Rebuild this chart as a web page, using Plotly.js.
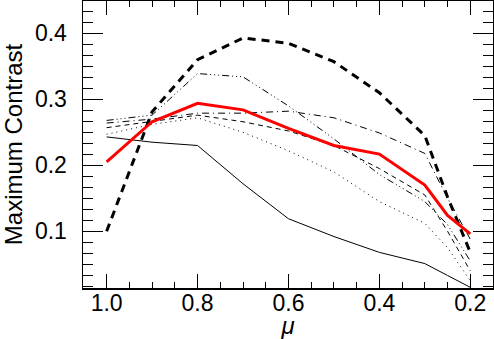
<!DOCTYPE html>
<html>
<head>
<meta charset="utf-8">
<script src="https://cdn.plot.ly/plotly-3.0.1.min.js"></script>
<style>
  body { margin: 0; background: #fff; }
  #chart { width: 494px; height: 339px; }
</style>
</head>
<body>
<div id="chart"></div>
<script>
// mu grid (shared by all curves)
var mu = [1.0, 0.9, 0.8, 0.7, 0.6, 0.5, 0.4, 0.3, 0.25, 0.2];

// values
var solidThin   = [0.243, 0.235, 0.230, 0.172, 0.119, 0.092, 0.068, 0.051, 0.033, 0.015];
var thickDash   = [0.100, 0.281, 0.360, 0.393, 0.385, 0.357, 0.310, 0.245, 0.152, 0.068];
var dashDotDot  = [0.268, 0.276, 0.339, 0.334, 0.290, 0.240, 0.186, 0.145, 0.110, 0.055];
var dashDot     = [0.264, 0.270, 0.279, 0.279, 0.282, 0.272, 0.249, 0.218, 0.150, 0.088];
var thinDash    = [0.257, 0.266, 0.276, 0.266, 0.252, 0.230, 0.195, 0.155, 0.100, 0.040];
var dotted      = [0.247, 0.262, 0.272, 0.250, 0.222, 0.190, 0.145, 0.112, 0.075, 0.025];
var redLine     = [0.205, 0.266, 0.294, 0.284, 0.256, 0.230, 0.217, 0.170, 0.124, 0.096];

var xTickVals = [1.0, 0.8, 0.6, 0.4, 0.2];
var xTickText = ["1.0", "0.8", "0.6", "0.4", "0.2"];
var yTickVals = [0.1, 0.2, 0.3, 0.4];
var yTickText = ["0.1", "0.2", "0.3", "0.4"];

function line(y, w, dash, color){
  return {
    x: mu, y: y, mode: "lines", hoverinfo: "skip",
    line: {color: color || "#000", width: w, dash: dash}
  };
}

var data = [
  line(solidThin, 1, "solid"),
  line(dotted, 1, "1px,4px"),
  line(thinDash, 1, "5px,4px"),
  line(dashDot, 1, "7px,4px,1px,4px"),
  line(dashDotDot, 1, "7px,3px,1px,3px,1px,3px,1px,3px"),
  line(thickDash, 3, "8px,6px"),
  line(redLine, 3, "solid", "#ff0000")
];

var fnt = {family: "Liberation Sans, Arial, sans-serif", size: 23, color: "#000"};

var layout = {
  width: 494, height: 339,
  margin: {l: 83, r: 1, t: 1, b: 51},
  paper_bgcolor: "#fff", plot_bgcolor: "#fff",
  showlegend: false,
  font: fnt,
  xaxis: {
    range: [1.052, 0.15],
    tickmode: "array", tickvals: xTickVals, ticktext: xTickText,
    ticks: "inside", ticklen: 14, tickwidth: 1.5, tickcolor: "#000",
    minor: {ticks: "inside", dtick: 0.05, ticklen: 6, tickwidth: 1, tickcolor: "#000", showgrid: false},
    mirror: "ticks", showline: true, linecolor: "#000", linewidth: 1.5,
    showgrid: false, zeroline: false,
    ticklabelstandoff: -6,
    tickfont: fnt,
    title: {text: "<i>μ</i>", font: {family: fnt.family, size: 24, color: "#000"}, standoff: 10}
  },
  yaxis: {
    range: [0.014, 0.449],
    tickmode: "array", tickvals: yTickVals, ticktext: yTickText,
    ticks: "inside", ticklen: 20, tickwidth: 1.5, tickcolor: "#000",
    minor: {ticks: "inside", dtick: 0.1 / 6, ticklen: 10, tickwidth: 1, tickcolor: "#000", showgrid: false},
    mirror: "ticks", showline: true, linecolor: "#000", linewidth: 1.5,
    showgrid: false, zeroline: false,
    ticklabelstandoff: 10,
    tickfont: fnt,
    title: {text: "Maximum Contrast", font: {family: fnt.family, size: 24, color: "#000"}, standoff: 10}
  }
};

Plotly.newPlot("chart", data, layout, {staticPlot: true, displayModeBar: false});
</script>
</body>
</html>
